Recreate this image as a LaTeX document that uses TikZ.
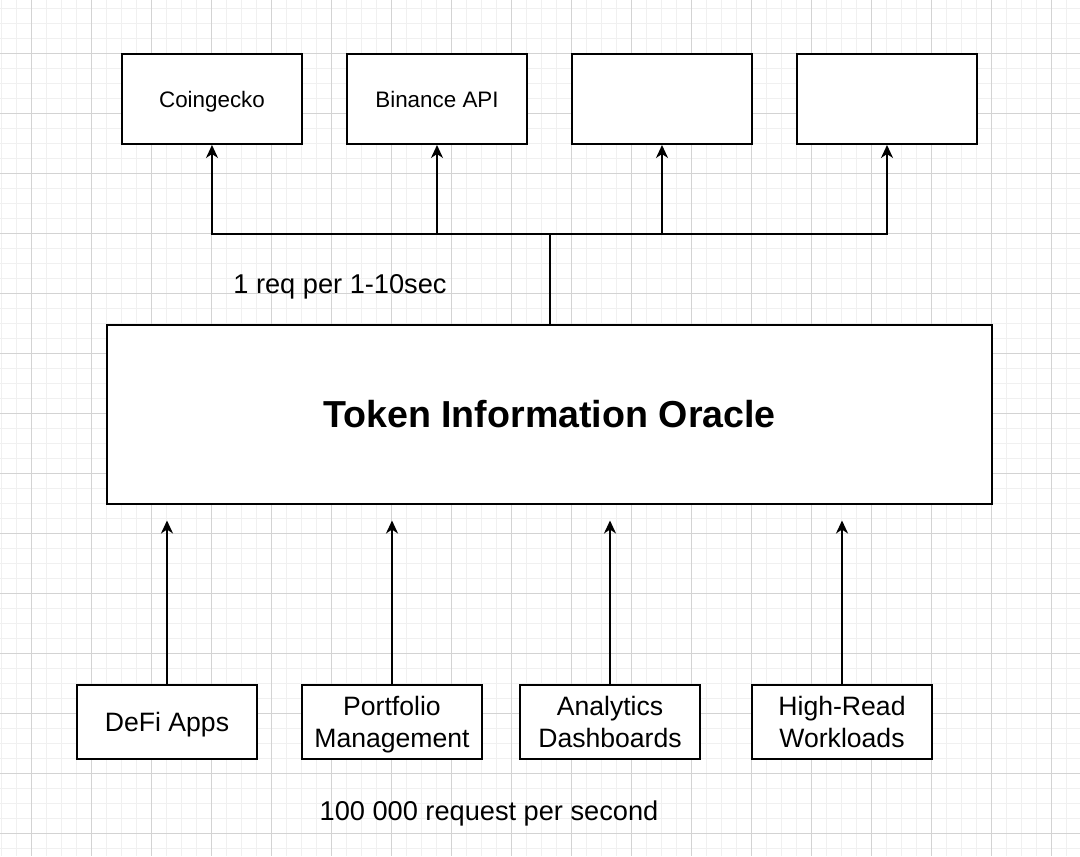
\documentclass[tikz,border=0pt]{standalone}
\usepackage{fontspec}
\setmainfont{Liberation Sans}
\usepackage{tikz}
\usetikzlibrary{
	arrows.meta,
	positioning,
	calc
}
\definecolor{gridminor}{HTML}{F0F0F0}
\definecolor{gridmajor}{HTML}{D3D3D3}
\tikzset{
	source/.style={draw, line width=1pt, fill=white, minimum width=90pt, minimum height=45pt, text height=8pt, text depth=0pt, font=\fontsize{11.2}{13}\selectfont},
	client/.style={draw, line width=1pt, fill=white, minimum width=90pt, minimum height=37pt, align=center, text height=25.5pt, text depth=0pt, font=\fontsize{13.3}{16}\selectfont},
	link/.style={line width=1pt},
	feed/.style={line width=1pt, -{Stealth[length=6.5pt, width=6pt, inset=2pt]}},
	note/.style={text height=9.7pt, text depth=0pt, font=\fontsize{13.6}{16}\selectfont}
}

\begin{document}
\begin{tikzpicture}[x=.5pt, y=-.5pt]

		\useasboundingbox (0, 0) rectangle (1080, 856);
		\fill[white] (0, 0) rectangle (1080, 856);

		% grid paper
		\foreach \gx in {1.7,16.7,...,1080} \draw[gridminor, line width=.5pt] (\gx, 0) -- (\gx, 856);
		\foreach \gy in {8.3,23.3,...,856} \draw[gridminor, line width=.5pt] (0, \gy) -- (1080, \gy);
		\foreach \gx in {31.7,91.7,...,1080} \draw[gridmajor, line width=.5pt] (\gx, 0) -- (\gx, 856);
		\foreach \gy in {53.3,113.3,...,856} \draw[gridmajor, line width=.5pt] (0, \gy) -- (1080, \gy);

		% oracle
		\node[draw, line width=1pt, fill=white, minimum width=442.5pt, minimum height=89.5pt, text height=13.5pt, text depth=0pt, font=\fontsize{18.8}{22}\selectfont\bfseries] (oracle) at (549.5, 414) {Token Information Oracle};

		% price sources
		\node[source] (coingecko) at (212, 99) {Coingecko};
		\node[source] (binance) at (437, 99) {Binance API};
		\node[source] (srcC) at (662, 99) {};
		\node[source] (srcD) at (887, 99) {};

		\draw[link] (oracle.north) -- ++(0, -90) coordinate (bus);
		\foreach \src in {coingecko, binance, srcC, srcD}
			\draw[feed] (bus) -| (\src.south);

		\node[note] (polling) at (340, 284) {1 req per 1-10sec};

		% consumers
		\node[client, text height=9.5pt] (defi) at (167, 722) {DeFi Apps};
		\node[client] (portfolio) at (392, 722) {Portfolio\\Management};
		\node[client] (analytics) at (610, 722) {Analytics\\Dashboards};
		\node[client] (highread) at (842, 722) {High-Read\\Workloads};

		\coordinate (gap) at ($(oracle.south) + (0, 16)$);
		\foreach \cl in {defi, portfolio, analytics, highread}
			\draw[feed] (\cl.north) -- (\cl.north |- gap);

		\node[note] (load) at (489, 811) {100 000 request per second};

	\end{tikzpicture}
\end{document}
